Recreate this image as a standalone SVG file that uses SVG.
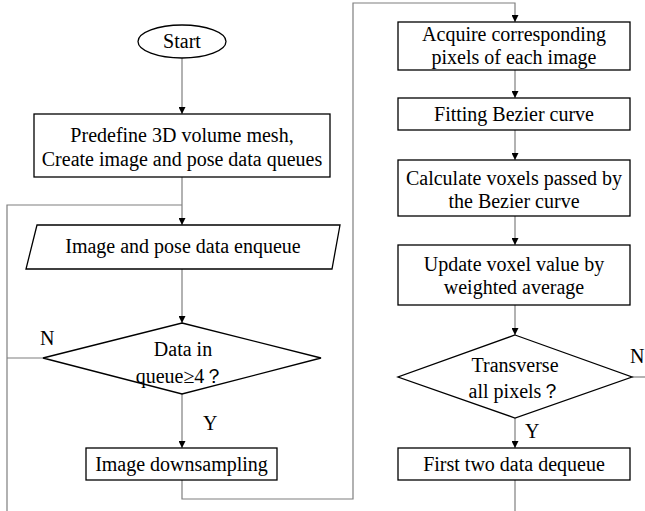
<svg xmlns="http://www.w3.org/2000/svg" width="645" height="511" viewBox="0 0 645 511">
<defs>
<marker id="arr" viewBox="0 0 10 10" refX="10" refY="5" markerWidth="7" markerHeight="7" markerUnits="userSpaceOnUse" orient="auto">
<path d="M0,0 L10,5 L0,10 Z" fill="#000"/>
</marker>
<style>
.n{fill:#fff;stroke:#000;stroke-width:1.3}
.c{fill:none;stroke:#7f7f7f;stroke-width:1.2}
.t{font-family:"Liberation Serif","Times New Roman",serif;font-size:20px;fill:#000;text-anchor:middle}
.l{font-family:"Liberation Serif","Times New Roman",serif;font-size:20px;fill:#000}
</style>
</defs>
<rect width="645" height="511" fill="#fff"/>
<g id="connectors">
<path class="c" d="M182,58 V114" marker-end="url(#arr)"/>
<path class="c" d="M182,177 V225" marker-end="url(#arr)"/>
<path class="c" d="M7,511 V205 H182"/>
<path class="c" d="M182,269 V323" marker-end="url(#arr)"/>
<path class="c" d="M43,358 H7"/>
<path class="c" d="M182,394 V448" marker-end="url(#arr)"/>
<path class="c" d="M182,480 V499 H353 V3 H515 V22" marker-end="url(#arr)"/>
<path class="c" d="M515,70 V98" marker-end="url(#arr)"/>
<path class="c" d="M515,130 V160" marker-end="url(#arr)"/>
<path class="c" d="M515,216 V245" marker-end="url(#arr)"/>
<path class="c" d="M515,305 V335" marker-end="url(#arr)"/>
<path class="c" d="M632,377 H645"/>
<path class="c" d="M515,418 V448" marker-end="url(#arr)"/>
<path class="c" d="M515,480 V511"/>
<text class="l" x="40" y="345">N</text>
<text class="l" x="203" y="430">Y</text>
<text class="l" x="630" y="363">N</text>
<text class="l" x="525" y="438">Y</text>
</g>
<g id="start">
<ellipse class="n" cx="182" cy="41.5" rx="44" ry="16.5"/>
<text class="t" x="182" y="48">Start</text>
</g>
<g id="predefine">
<rect class="n" x="34" y="114" width="296" height="63"/>
<text class="t" x="182" y="142">Predefine 3D volume mesh,</text>
<text class="t" x="182" y="166">Create image and pose data queues</text>
</g>
<g id="enqueue">
<polygon class="n" points="37,225 340,225 332,269 26,269"/>
<text class="t" x="183" y="253">Image and pose data enqueue</text>
</g>
<g id="decision1">
<polygon class="n" points="182,323 321,358 182,394 43,358"/>
<text class="t" x="183" y="356">Data in</text>
<text class="t" x="180" y="383">queue≥4？</text>
</g>
<g id="downsampling">
<rect class="n" x="86" y="448" width="191" height="32"/>
<text class="t" x="181.5" y="471">Image downsampling</text>
</g>
<g id="acquire">
<rect class="n" x="398" y="22" width="232" height="48"/>
<text class="t" x="514" y="41">Acquire corresponding</text>
<text class="t" x="514" y="64">pixels of each image</text>
</g>
<g id="fitting">
<rect class="n" x="398" y="98" width="232" height="32"/>
<text class="t" x="514" y="121">Fitting Bezier curve</text>
</g>
<g id="calculate">
<rect class="n" x="398" y="160" width="232" height="56"/>
<text class="t" x="514" y="185">Calculate voxels passed by</text>
<text class="t" x="514" y="208">the Bezier curve</text>
</g>
<g id="update">
<rect class="n" x="398" y="245" width="232" height="60"/>
<text class="t" x="514" y="271">Update voxel value by</text>
<text class="t" x="514" y="294">weighted average</text>
</g>
<g id="decision2">
<polygon class="n" points="515,335 632,377 515,418 398,377"/>
<text class="t" x="515" y="372">Transverse</text>
<text class="t" x="515" y="398">all pixels？</text>
</g>
<g id="dequeue">
<rect class="n" x="398" y="448" width="232" height="32"/>
<text class="t" x="514" y="471">First two data dequeue</text>
</g>
</svg>
